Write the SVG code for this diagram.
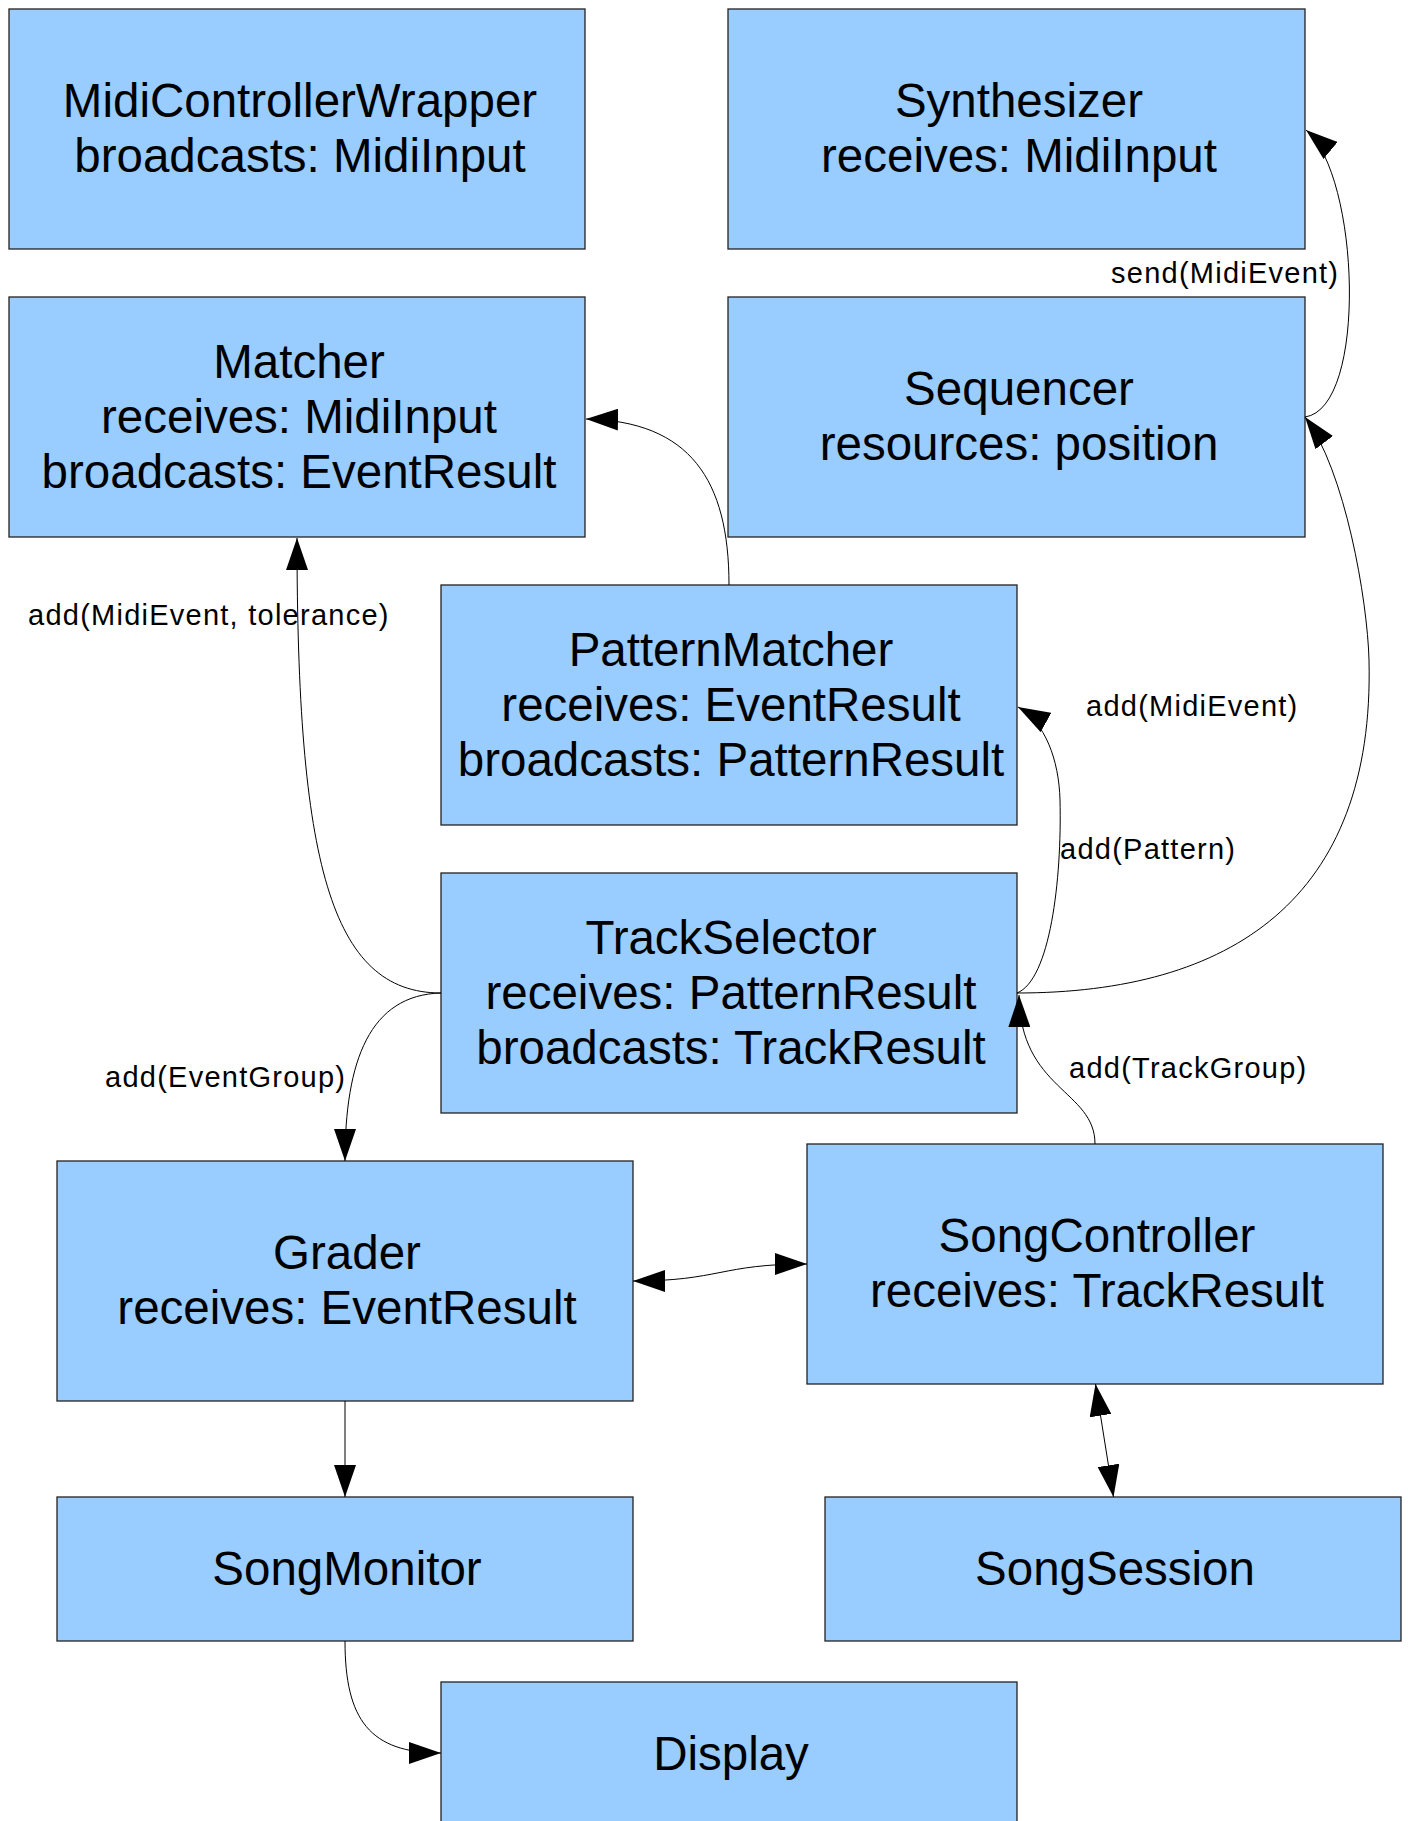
<svg xmlns="http://www.w3.org/2000/svg" width="1408" height="1821" viewBox="0 0 1408 1821">
<style>
  .box rect { fill: #99ccff; stroke: #222; stroke-width: 1.3; }
  .box text { font-family: "Liberation Sans", Arial, sans-serif; font-size: 47.5px; fill: #000; text-anchor: middle; }
  .conn path { fill: none; stroke: #000; stroke-width: 1; }
  .lbl { font-family: "Liberation Sans", Arial, sans-serif; font-size: 29px; letter-spacing: 1.25px; fill: #000; }
</style>
<defs>
  <marker id="arr" viewBox="0 0 32 22" markerWidth="32" markerHeight="22" refX="32" refY="11" orient="auto" markerUnits="userSpaceOnUse">
    <path d="M0,0 L32,11 L0,22 z" fill="#000"/>
  </marker>
  <marker id="arrS" viewBox="0 0 32 22" markerWidth="32" markerHeight="22" refX="32" refY="11" orient="auto-start-reverse" markerUnits="userSpaceOnUse">
    <path d="M0,0 L32,11 L0,22 z" fill="#000"/>
  </marker>
</defs>
<rect width="1408" height="1821" fill="#fff"/>

<g id="MidiControllerWrapper" class="box">
  <rect x="9" y="9" width="576" height="240"/>
  <text x="300" y="117">MidiControllerWrapper</text>
  <text x="300" y="172">broadcasts: MidiInput</text>
</g>
<g id="Synthesizer" class="box">
  <rect x="728" y="9" width="577" height="240"/>
  <text x="1019" y="117">Synthesizer</text>
  <text x="1019" y="172">receives: MidiInput</text>
</g>
<g id="Matcher" class="box">
  <rect x="9" y="297" width="576" height="240"/>
  <text x="299" y="377.5">Matcher</text>
  <text x="299" y="432.5">receives: MidiInput</text>
  <text x="299" y="487.5">broadcasts: EventResult</text>
</g>
<g id="Sequencer" class="box">
  <rect x="728" y="297" width="577" height="240"/>
  <text x="1019" y="405">Sequencer</text>
  <text x="1019" y="460">resources: position</text>
</g>
<g id="PatternMatcher" class="box">
  <rect x="441" y="585" width="576" height="240"/>
  <text x="731" y="665.5">PatternMatcher</text>
  <text x="731" y="720.5">receives: EventResult</text>
  <text x="731" y="775.5">broadcasts: PatternResult</text>
</g>
<g id="TrackSelector" class="box">
  <rect x="441" y="873" width="576" height="240"/>
  <text x="731" y="953.5">TrackSelector</text>
  <text x="731" y="1008.5">receives: PatternResult</text>
  <text x="731" y="1063.5">broadcasts: TrackResult</text>
</g>
<g id="Grader" class="box">
  <rect x="57" y="1161" width="576" height="240"/>
  <text x="347" y="1269">Grader</text>
  <text x="347" y="1324">receives: EventResult</text>
</g>
<g id="SongController" class="box">
  <rect x="807" y="1144" width="576" height="240"/>
  <text x="1097" y="1252">SongController</text>
  <text x="1097" y="1307">receives: TrackResult</text>
</g>
<g id="SongMonitor" class="box">
  <rect x="57" y="1497" width="576" height="144"/>
  <text x="347" y="1584.5">SongMonitor</text>
</g>
<g id="SongSession" class="box">
  <rect x="825" y="1497" width="576" height="144"/>
  <text x="1115" y="1584.5">SongSession</text>
</g>
<g id="Display" class="box">
  <rect x="441" y="1682" width="576" height="144"/>
  <text x="731" y="1769.5">Display</text>
</g>

<g id="connectors" class="conn">
  <path d="M1305,417 C1368,408 1360,175 1306,130" marker-end="url(#arr)"/>
  <path d="M1017,993 C1230,993 1375,900 1369,660 C1367.5,600 1345,470 1305,417" marker-end="url(#arr)"/>
  <path d="M1017,993 C1050,980 1062,880 1060,800 C1059,760 1045,722 1018,707" marker-end="url(#arr)"/>
  <path d="M1095,1144 C1095,1090 1020,1090 1019,995" marker-end="url(#arr)"/>
  <path d="M729,585 C729,480 690,421 586,419" marker-end="url(#arr)"/>
  <path d="M441,993 C330,993 297,860 297,538" marker-end="url(#arr)"/>
  <path d="M441,993 C370,995 345,1060 345,1161" marker-end="url(#arr)"/>
  <path d="M633,1281 C720,1281 720,1264 807,1264" marker-start="url(#arrS)" marker-end="url(#arr)"/>
  <path d="M345,1401 L345,1497" marker-end="url(#arr)"/>
  <path d="M1095.5,1384 L1113.5,1497" marker-start="url(#arrS)" marker-end="url(#arr)"/>
  <path d="M345,1641 C345,1720 370,1753 441,1753" marker-end="url(#arr)"/>
</g>

<g id="labels">
  <text class="lbl" x="1111" y="283">send(MidiEvent)</text>
  <text class="lbl" x="28" y="625">add(MidiEvent, tolerance)</text>
  <text class="lbl" x="1086" y="716">add(MidiEvent)</text>
  <text class="lbl" x="1060" y="859">add(Pattern)</text>
  <text class="lbl" x="105" y="1087">add(EventGroup)</text>
  <text class="lbl" x="1069" y="1078">add(TrackGroup)</text>
</g>
</svg>
